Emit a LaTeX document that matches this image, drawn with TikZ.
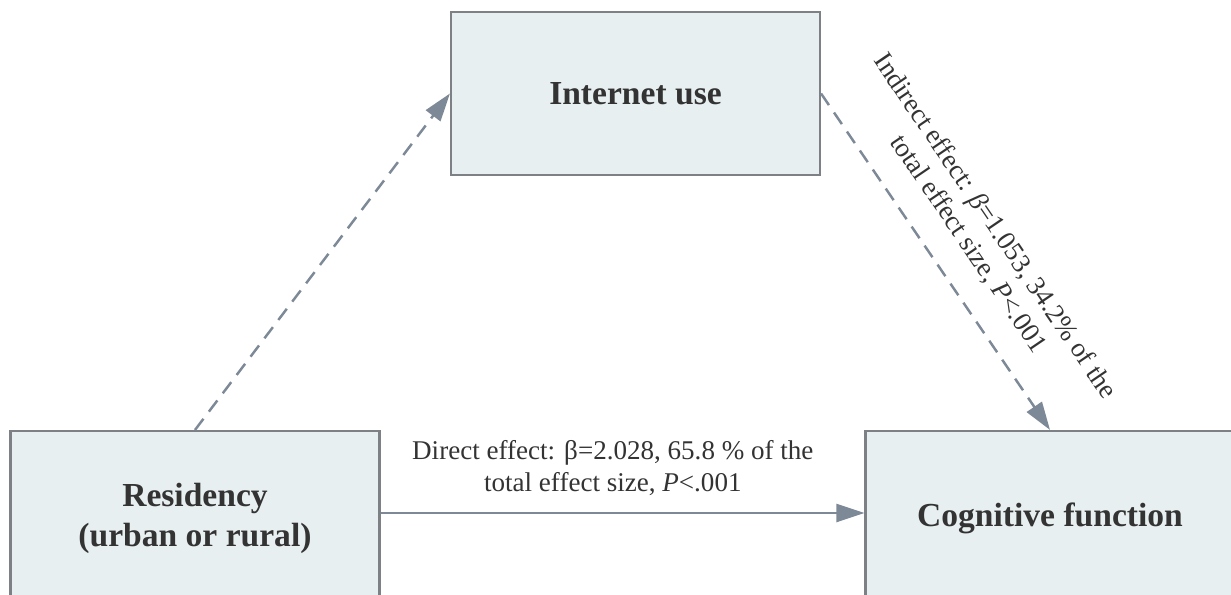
\documentclass[tikz,border=0pt]{standalone}
\usepackage{fontspec}
\setmainfont{Liberation Serif}
\usetikzlibrary{arrows.meta}
\definecolor{boxfill}{RGB}{232,239,240}
\definecolor{boxline}{RGB}{125,129,133}
\definecolor{arrowgray}{RGB}{125,137,150}
\definecolor{textgray}{RGB}{51,51,51}
\begin{document}
\begin{tikzpicture}[x=1cm,y=1cm,>={Triangle[length=0.56cm,width=0.36cm]},
  varbox/.style={draw=boxline,line width=1.2pt,fill=boxfill,text=textgray,align=center,
    minimum width=7.38cm,minimum height=3.26cm,inner sep=0pt,
    font=\fontsize{19.1}{22.8}\selectfont\bfseries},
  effect/.style={draw=arrowgray,line width=1.4pt,->},
  mediated/.style={effect,dash pattern=on 0.28cm off 0.18cm},
  effectlabel/.style={text=textgray,align=center,inner sep=0pt,
    font=\fontsize{15.4}{18.2}\selectfont}]
  \useasboundingbox (0,0) rectangle (24.62,11.88);
  \node[varbox] (inet) at (12.71,10.01) {Internet use};
  \node[varbox,minimum height=3.48cm] (res) at (3.9,1.52) {Residency\\(urban or rural)};
  \node[varbox,minimum height=3.48cm] (cog) at (21.0,1.52) {Cognitive function};
  \draw[mediated] (res.north) -- (inet.west);
  \draw[mediated] (inet.east) -- (cog.north)
    node[effectlabel,sloped,pos=0.51,above=0.48cm] {Indirect effect: \textit{β}=1.053, 34.2\% of the\\total effect size, \textit{P}<.001};
  \draw[effect] ([yshift=0.1cm]res.east) -- ([yshift=0.1cm]cog.west)
    node[effectlabel,pos=0.48,above=0.32cm] {Direct effect: β=2.028, 65.8 \% of the\\total effect size, \textit{P}<.001};
\end{tikzpicture}
\end{document}
